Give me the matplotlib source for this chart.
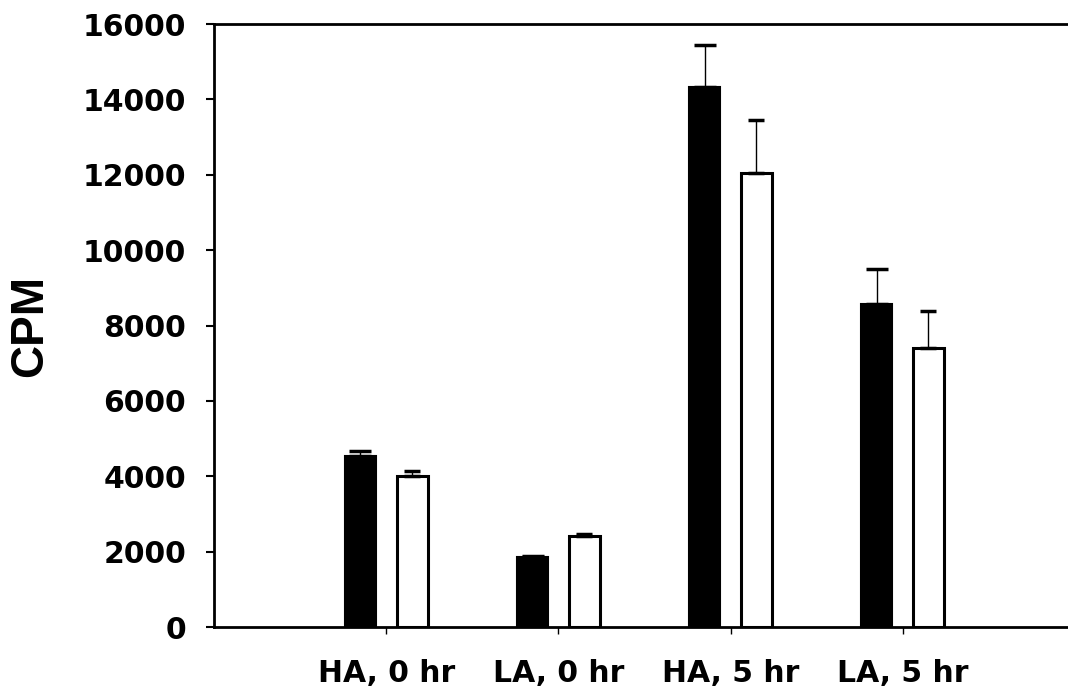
import matplotlib
matplotlib.use("Agg")
import matplotlib.pyplot as plt
import numpy as np

# values
groups = ["HA, 0 hr", "LA, 0 hr", "HA, 5 hr", "LA, 5 hr"]
black_vals = [4530, 1850, 14320, 8560]
black_err = [150, 40, 1120, 950]
white_vals = [4000, 2420, 12050, 7400]
white_err = [140, 40, 1400, 980]

yticks = [0, 2000, 4000, 6000, 8000, 10000, 12000, 14000, 16000]

fig = plt.figure(figsize=(10.68, 6.96), dpi=100)
ax = fig.add_axes([0.2004, 0.0991, 0.806, 0.8664])

x = np.arange(1, len(groups) + 1)
w = 0.18
off = 0.15

ax.bar(x - off, black_vals, w, color="black", edgecolor="black", linewidth=1.5, zorder=2)
ax.bar(x + off, white_vals, w, color="white", edgecolor="black", linewidth=2.2, zorder=2)

ax.errorbar(x - off, black_vals, yerr=[np.zeros(4), black_err], fmt="none",
            ecolor="black", elinewidth=1, capsize=8, capthick=2.5, zorder=3)
ax.errorbar(x + off, white_vals, yerr=[np.zeros(4), white_err], fmt="none",
            ecolor="black", elinewidth=1, capsize=6, capthick=2.5, zorder=3)

ax.set_xlim(0, 5)
ax.set_ylim(0, 16000)
ax.set_yticks(yticks)
ax.set_yticklabels([str(t) for t in yticks], fontfamily="DejaVu Sans",
                   fontweight="bold", fontsize=21.5)
ax.set_xticks(x)
ax.set_xticklabels(groups, fontfamily="DejaVu Sans", fontweight="bold", fontsize=21.5)

ax.tick_params(axis="y", direction="out", length=6, width=1.5, pad=14)
ax.tick_params(axis="x", direction="out", length=5, width=1, pad=18)

for s in ["left", "bottom", "top"]:
    ax.spines[s].set_linewidth(2)
ax.spines["right"].set_visible(False)

ax.set_ylabel("CPM", fontfamily="Liberation Sans", fontweight="bold", fontsize=33, labelpad=22)

fig.savefig("out.png", dpi=100)
